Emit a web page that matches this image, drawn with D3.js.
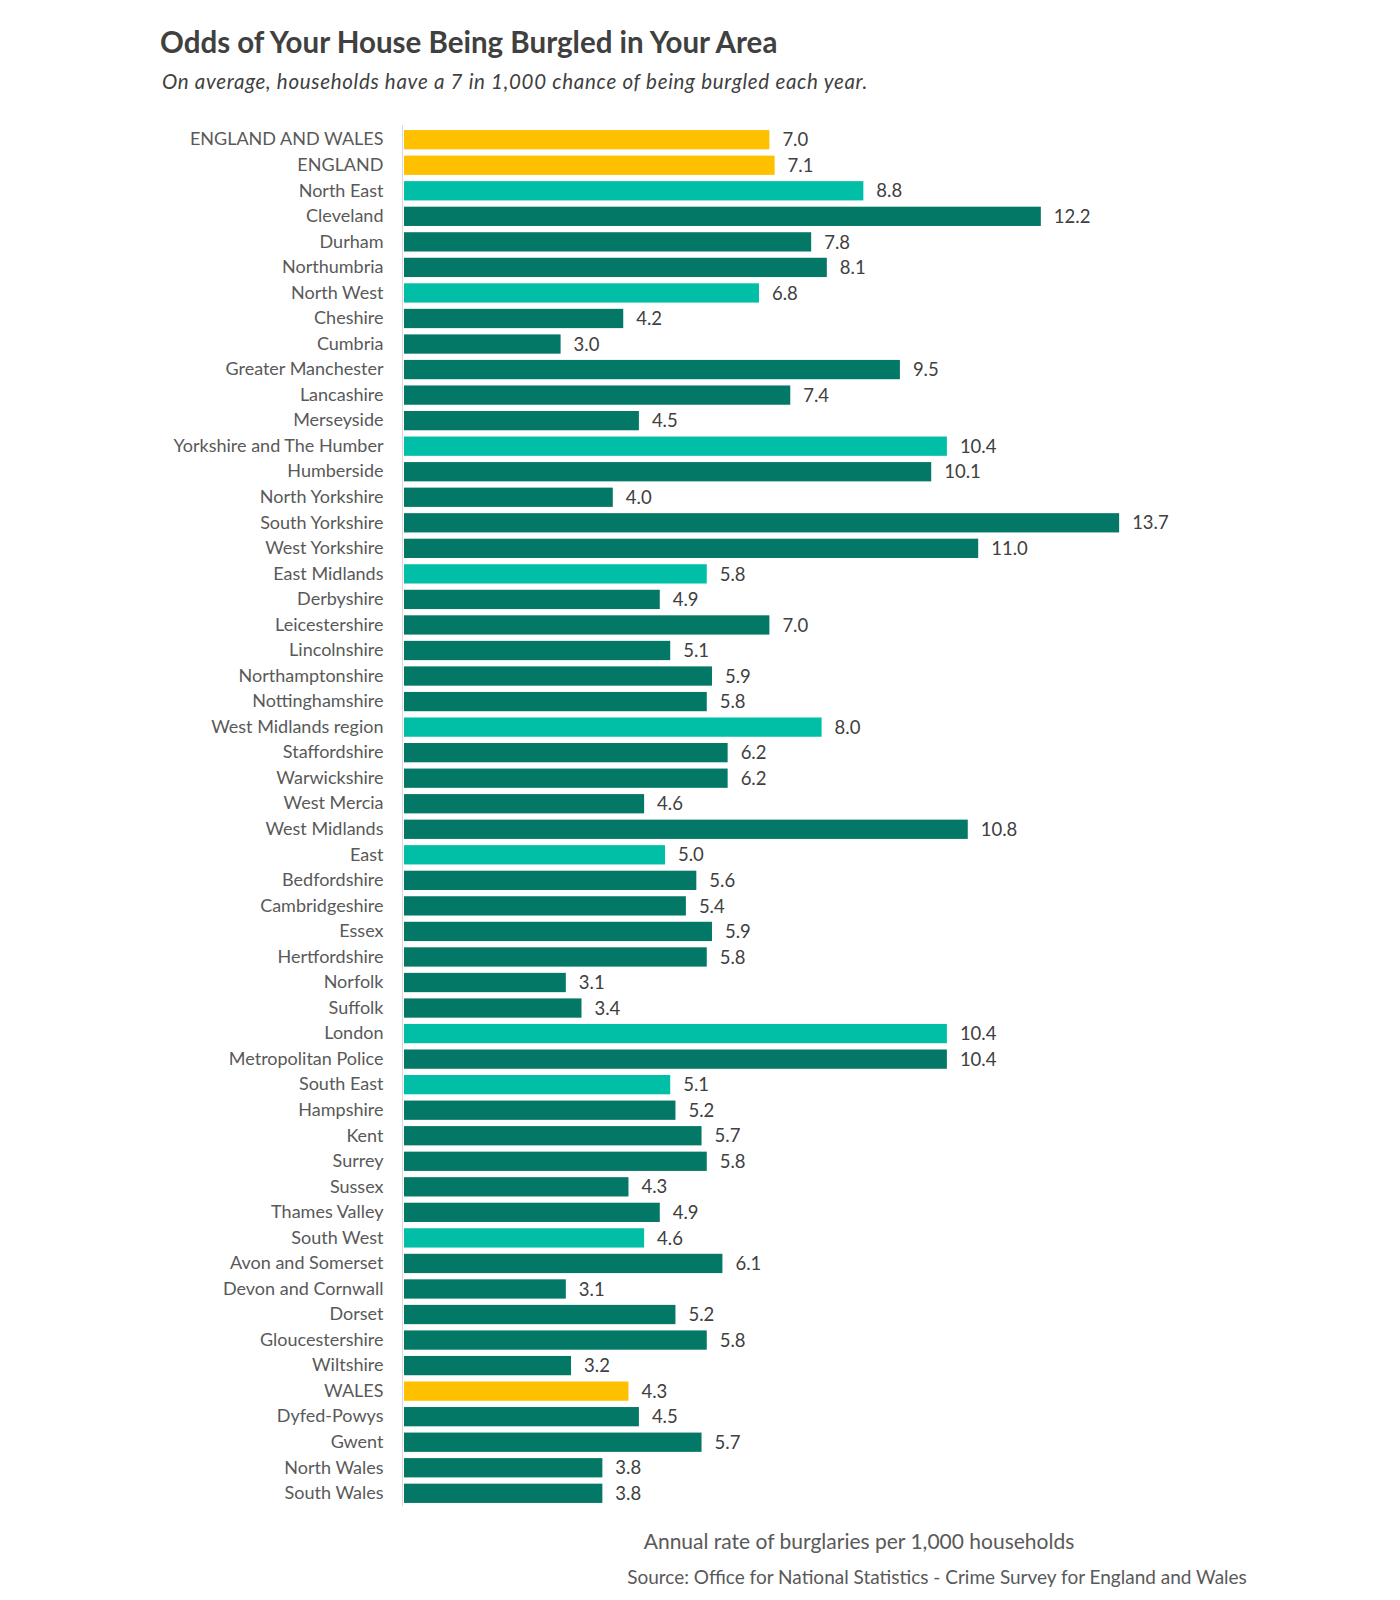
<!DOCTYPE html>
<html>
<head>
<meta charset="utf-8">
<script src="https://cdn.jsdelivr.net/npm/d3@7"></script>
<style>
  body { margin: 0; background: #fff; }
  svg text { font-family: Lato, "Open Sans", sans-serif; }
</style>
</head>
<body>
<div id="chart"></div>
<script>
// Area names, top to bottom
const areas = [
  'ENGLAND AND WALES', 'ENGLAND', 'North East', 'Cleveland', 'Durham', 'Northumbria',
  'North West', 'Cheshire', 'Cumbria', 'Greater Manchester', 'Lancashire', 'Merseyside',
  'Yorkshire and The Humber', 'Humberside', 'North Yorkshire', 'South Yorkshire', 'West Yorkshire',
  'East Midlands', 'Derbyshire', 'Leicestershire', 'Lincolnshire', 'Northamptonshire', 'Nottinghamshire',
  'West Midlands region', 'Staffordshire', 'Warwickshire', 'West Mercia', 'West Midlands',
  'East', 'Bedfordshire', 'Cambridgeshire', 'Essex', 'Hertfordshire', 'Norfolk', 'Suffolk',
  'London', 'Metropolitan Police',
  'South East', 'Hampshire', 'Kent', 'Surrey', 'Sussex', 'Thames Valley',
  'South West', 'Avon and Somerset', 'Devon and Cornwall', 'Dorset', 'Gloucestershire', 'Wiltshire',
  'WALES', 'Dyfed-Powys', 'Gwent', 'North Wales', 'South Wales'
];

// burglaries per 1,000 households
const rates = [
  7.0, 7.1, 8.8, 12.2, 7.8, 8.1,
  6.8, 4.2, 3.0, 9.5, 7.4, 4.5,
  10.4, 10.1, 4.0, 13.7, 11.0,
  5.8, 4.9, 7.0, 5.1, 5.9, 5.8,
  8.0, 6.2, 6.2, 4.6, 10.8,
  5.0, 5.6, 5.4, 5.9, 5.8, 3.1, 3.4,
  10.4, 10.4,
  5.1, 5.2, 5.7, 5.8, 4.3, 4.9,
  4.6, 6.1, 3.1, 5.2, 5.8, 3.2,
  4.3, 4.5, 5.7, 3.8, 3.8
];

// level of each row: nation / region / police force area
const levels = [
  'nation', 'nation', 'region', 'force', 'force', 'force',
  'region', 'force', 'force', 'force', 'force', 'force',
  'region', 'force', 'force', 'force', 'force',
  'region', 'force', 'force', 'force', 'force', 'force',
  'region', 'force', 'force', 'force', 'force',
  'region', 'force', 'force', 'force', 'force', 'force', 'force',
  'region', 'force',
  'region', 'force', 'force', 'force', 'force', 'force',
  'region', 'force', 'force', 'force', 'force', 'force',
  'nation', 'force', 'force', 'force', 'force'
];

const data = areas.map((a, i) => ({ area: a, rate: rates[i], level: levels[i] }));

const width = 1400, height = 1600;
const margin = { left: 404, top: 127, bottom: 95 };

const svg = d3.select('#chart').append('svg')
    .attr('width', width)
    .attr('height', height);

const colour = d3.scaleOrdinal()
    .domain(['nation', 'region', 'force'])
    .range(['#FFC000', '#00BFA6', '#047866']);

const x = d3.scaleLinear()
    .domain([0, 14])
    .range([margin.left, margin.left + 14 * 52.2]);

const y = d3.scaleBand()
    .domain(areas)
    .range([margin.top, height - margin.bottom + 1])
    .paddingInner(0.245)
    .paddingOuter(0.12);

// title + subtitle
svg.append('text')
    .attr('x', 160)
    .attr('y', 53)
    .style('font-size', '29.5px')
    .style('font-weight', 'bold')
    .style('fill', '#404040')
    .text('Odds of Your House Being Burgled in Your Area');

svg.append('text')
    .attr('x', 162)
    .attr('y', 89)
    .style('font-size', '20.5px')
    .style('font-style', 'italic')
    .style('letter-spacing', '0.7px')
    .style('fill', '#404040')
    .text('On average, households have a 7 in 1,000 chance of being burgled each year.');

// bars
svg.selectAll('.bar')
    .data(data)
    .enter()
    .append('rect')
    .attr('class', 'bar')
    .attr('x', x(0))
    .attr('y', d => y(d.area))
    .attr('width', d => x(d.rate) - x(0))
    .attr('height', y.bandwidth())
    .attr('fill', d => colour(d.level));

// value labels
svg.selectAll('.val')
    .data(data)
    .enter()
    .append('text')
    .attr('class', 'val')
    .attr('x', d => x(d.rate) + 13)
    .attr('y', d => y(d.area) + y.bandwidth() / 2)
    .attr('dy', '0.36em')
    .style('font-size', '18.5px')
    .style('fill', '#404040')
    .text(d => d3.format('.1f')(d.rate));

// category axis, no ticks
const yAxis = svg.append('g')
    .attr('transform', `translate(${x(0) - 1.5},0)`)
    .call(d3.axisLeft(y).tickSize(0).tickPadding(19));

yAxis.select('.domain')
    .attr('stroke', '#d9d9d9')
    .attr('stroke-width', 1)
    .attr('d', `M0,${margin.top - 2}V${height - margin.bottom + 1}`);

yAxis.selectAll('text')
    .style('font-size', '18px')
    .style('font-family', 'Lato, "Open Sans", sans-serif')
    .style('fill', '#595959');

// axis title + source
svg.append('text')
    .attr('x', 859)
    .attr('y', 1549)
    .attr('text-anchor', 'middle')
    .style('font-size', '21px')
    .style('fill', '#595959')
    .text('Annual rate of burglaries per 1,000 households');

svg.append('text')
    .attr('x', 937)
    .attr('y', 1584)
    .attr('text-anchor', 'middle')
    .style('font-size', '19px')
    .style('fill', '#595959')
    .text('Source: Office for National Statistics - Crime Survey for England and Wales');
</script>
</body>
</html>
